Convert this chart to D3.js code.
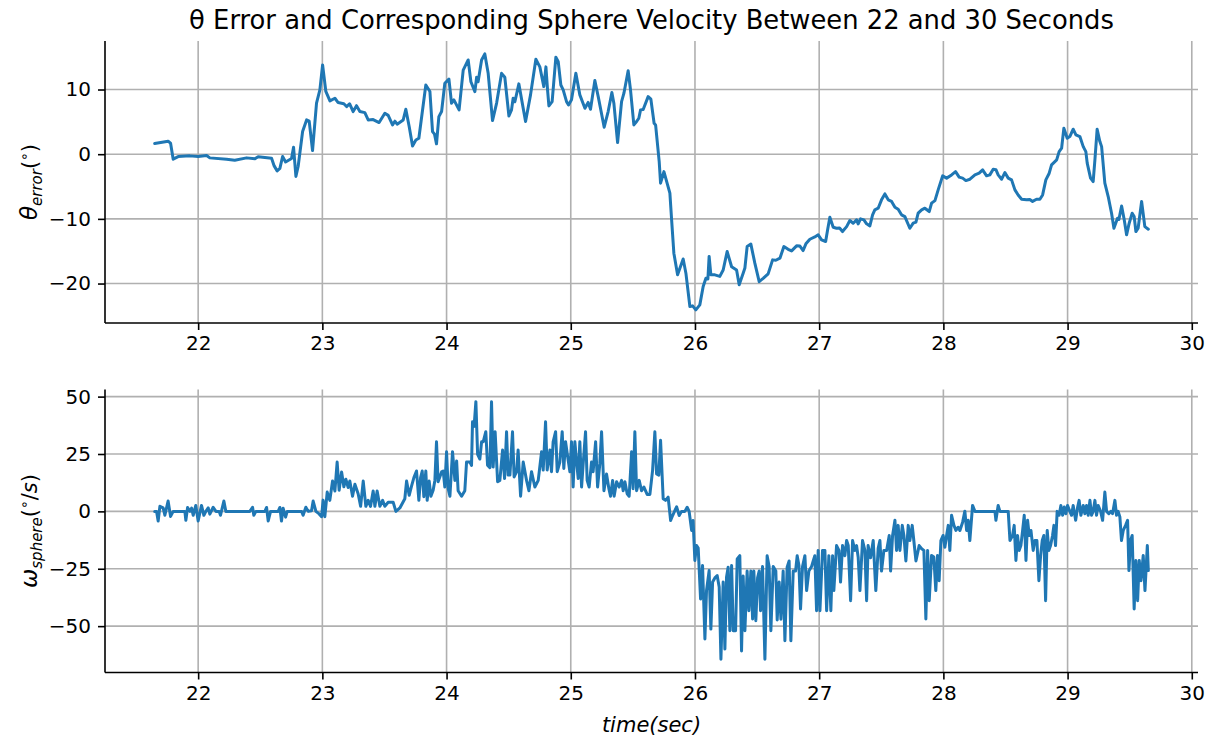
<!DOCTYPE html>
<html>
<head>
<meta charset="utf-8">
<title>θ Error and Sphere Velocity</title>
<script src="https://d3js.org/d3.v7.min.js"></script>
<style>
  body { margin: 0; background: #fff; }
  text { font-family: "DejaVu Sans", sans-serif; fill: #000; }
</style>
</head>
<body>
<svg id="chart" width="1213" height="738"></svg>
<script>
// time stamps (s) and theta error (deg), top panel
var errTime = [21.65,21.758,21.778,21.799,21.839,21.933,22.0,22.068,22.094,22.229,22.295,22.39,22.457,22.483,22.591,22.612,22.636,22.658,22.68,22.704,
  22.752,22.768,22.787,22.805,22.841,22.873,22.894,22.921,22.953,22.98,23.002,23.028,23.061,23.101,23.127,23.173,23.195,23.219,23.248,23.275,
  23.302,23.342,23.369,23.409,23.457,23.503,23.53,23.565,23.584,23.602,23.651,23.672,23.699,23.726,23.753,23.777,23.833,23.866,23.887,23.903,
  23.919,23.938,23.96,23.986,24.019,24.04,24.059,24.101,24.134,24.174,24.196,24.228,24.242,24.254,24.282,24.308,24.335,24.37,24.403,24.443,
  24.469,24.502,24.523,24.536,24.55,24.582,24.636,24.676,24.719,24.751,24.783,24.8,24.813,24.824,24.85,24.88,24.899,24.92,24.939,24.966,
  24.982,25.006,25.041,25.073,25.114,25.14,25.159,25.194,25.221,25.269,25.301,25.331,25.347,25.377,25.409,25.428,25.462,25.481,25.508,25.53,
  25.548,25.562,25.583,25.623,25.645,25.671,25.683,25.712,25.723,25.75,25.798,25.812,25.83,25.86,25.905,25.927,25.959,25.981,26.007,26.039,
  26.066,26.088,26.104,26.114,26.128,26.16,26.2,26.227,26.259,26.295,26.335,26.356,26.388,26.402,26.42,26.45,26.482,26.517,26.549,26.589,
  26.625,26.651,26.684,26.716,26.75,26.778,26.818,26.845,26.871,26.893,26.925,26.965,26.992,27.019,27.052,27.068,27.086,27.113,27.14,27.164,
  27.188,27.221,27.247,27.274,27.301,27.314,27.333,27.36,27.382,27.408,27.43,27.448,27.475,27.502,27.529,27.556,27.583,27.61,27.636,27.663,
  27.69,27.73,27.757,27.779,27.797,27.825,27.851,27.886,27.905,27.932,27.958,27.994,28.026,28.066,28.098,28.127,28.155,28.181,28.214,28.254,
  28.288,28.316,28.348,28.374,28.401,28.423,28.441,28.469,28.495,28.522,28.549,28.576,28.602,28.63,28.67,28.696,28.718,28.75,28.777,28.799,
  28.825,28.852,28.871,28.912,28.932,28.952,28.97,28.997,29.018,29.045,29.067,29.099,29.126,29.147,29.158,29.185,29.206,29.22,29.238,29.26,
  29.274,29.3,29.327,29.354,29.373,29.402,29.413,29.435,29.456,29.475,29.496,29.52,29.536,29.55,29.568,29.596,29.622,29.65];
var thetaError = [1.64,2.0,1.7,-0.77,-0.37,-0.26,-0.37,-0.2,-0.57,-0.77,-0.93,-0.57,-0.72,-0.4,-0.62,-1.81,-2.58,-2.2,-0.36,-1.2,
  -0.67,1.08,-3.45,-1.9,3.5,5.3,5.1,0.56,7.9,9.94,13.8,9.7,8.24,8.65,7.98,7.8,7.36,7.8,6.59,7.5,
  6.6,6.43,5.3,5.35,4.89,6.33,6.0,4.53,5.1,4.64,5.3,6.95,4.27,1.28,2.2,2.47,10.7,9.68,3.5,3.1,
  1.6,5.8,6.6,10.97,11.6,7.88,8.4,6.85,13.0,14.57,11.2,9.68,11.9,11.2,14.57,15.5,12.5,5.2,7.9,12.5,
  11.9,5.9,6.85,8.65,8.1,10.87,5.05,9.17,14.68,13.5,10.45,13.5,9.94,7.47,8.13,15.0,14.3,10.7,9.94,8.13,
  7.62,8.4,12.5,9.17,7.1,8.0,6.95,11.38,8.9,4.17,6.59,9.53,7.88,1.8,8.13,9.43,12.9,9.94,4.53,5.05,
  5.56,6.85,6.9,8.9,8.5,4.79,4.53,-1.14,-4.48,-2.69,-6.03,-10.15,-15.3,-18.65,-16.2,-18.4,-23.55,-23.45,-24.07,-23.3,
  -20.46,-19.17,-19.3,-15.8,-18.65,-18.65,-18.9,-17.9,-15.05,-17.4,-17.9,-20.2,-18.4,-17.6,-14.28,-13.9,-16.85,-19.7,-19.2,-18.5,
  -16.34,-16.4,-16.08,-14.28,-14.7,-14.95,-14.17,-14.2,-14.9,-13.86,-13.15,-12.8,-12.47,-13.25,-13.5,-11.7,-9.74,-11.3,-11.45,-11.4,
  -11.96,-11.2,-10.26,-10.67,-10.15,-10.77,-10.0,-10.15,-10.77,-11.08,-9.38,-8.6,-8.35,-7.06,-6.14,-7.06,-7.3,-8.2,-8.5,-9.38,
  -9.64,-11.45,-10.67,-10.5,-9.12,-8.6,-8.35,-8.87,-7.57,-7.17,-5.52,-3.35,-3.7,-3.2,-2.69,-3.55,-3.7,-4.08,-3.87,-3.2,
  -2.94,-2.43,-3.35,-3.2,-2.32,-2.4,-3.2,-3.87,-2.84,-3.7,-3.97,-5.52,-6.3,-6.96,-7.06,-7.0,-7.3,-6.96,-6.96,-6.3,
  -3.97,-2.94,-1.65,-0.88,0.4,0.93,4.02,2.47,2.72,3.86,2.98,2.72,1.17,0.4,-1.39,-3.7,-4.23,-0.88,3.86,1.95,
  1.17,-4.48,-6.55,-9.12,-11.45,-9.9,-10.1,-8.0,-10.15,-12.47,-10.67,-9.12,-9.64,-11.96,-11.45,-7.3,-11.2,-11.6];

// time stamps (s) and sphere angular velocity (deg/s), bottom panel
var velTime = [21.65,21.665,21.678,21.692,21.718,21.732,21.758,21.778,21.799,21.853,21.893,21.901,21.915,21.933,21.947,21.96,21.981,22.0,22.027,22.046,
  22.062,22.081,22.094,22.121,22.143,22.169,22.18,22.207,22.223,22.416,22.438,22.448,22.465,22.537,22.551,22.564,22.583,22.644,22.658,22.671,
  22.684,22.704,22.717,22.833,22.845,22.867,22.886,22.913,22.926,22.948,22.972,22.994,23.006,23.02,23.039,23.06,23.082,23.101,23.119,23.135,
  23.155,23.173,23.189,23.208,23.221,23.243,23.262,23.288,23.308,23.329,23.35,23.369,23.388,23.409,23.423,23.441,23.463,23.485,23.503,23.53,
  23.57,23.592,23.624,23.664,23.678,23.699,23.718,23.737,23.758,23.777,23.791,23.804,23.817,23.833,23.844,23.86,23.874,23.892,23.906,23.919,
  23.932,23.96,23.973,23.986,24.0,24.013,24.027,24.048,24.067,24.081,24.093,24.121,24.147,24.161,24.188,24.201,24.209,24.222,24.236,24.25,
  24.268,24.282,24.295,24.316,24.33,24.349,24.362,24.375,24.391,24.411,24.429,24.451,24.467,24.483,24.496,24.51,24.531,24.544,24.564,24.576,
  24.596,24.617,24.644,24.663,24.684,24.711,24.738,24.765,24.778,24.797,24.81,24.832,24.845,24.858,24.878,24.891,24.912,24.931,24.944,24.958,
  24.971,24.993,25.006,25.019,25.033,25.047,25.06,25.073,25.087,25.1,25.119,25.132,25.148,25.167,25.18,25.2,25.216,25.234,25.248,25.267,
  25.288,25.307,25.32,25.337,25.349,25.369,25.39,25.409,25.422,25.436,25.454,25.47,25.49,25.502,25.516,25.53,25.551,25.57,25.589,25.615,
  25.637,25.659,25.677,25.691,25.709,25.723,25.744,25.763,25.784,25.804,25.82,25.852,25.873,25.892,25.919,25.937,25.953,25.973,25.985,25.999,
  26.013,26.026,26.045,26.061,26.08,26.093,26.114,26.128,26.142,26.16,26.179,26.195,26.209,26.227,26.241,26.254,26.267,26.281,26.295,26.308,
  26.327,26.34,26.361,26.375,26.388,26.402,26.42,26.434,26.45,26.464,26.474,26.49,26.504,26.517,26.528,26.544,26.563,26.581,26.597,26.611,
  26.63,26.651,26.662,26.678,26.692,26.71,26.724,26.742,26.758,26.772,26.791,26.81,26.823,26.837,26.85,26.866,26.885,26.899,26.917,26.939,
  26.952,26.965,26.979,26.992,27.006,27.027,27.046,27.06,27.078,27.094,27.108,27.118,27.14,27.159,27.172,27.188,27.207,27.221,27.234,27.253,
  27.269,27.287,27.301,27.314,27.328,27.349,27.368,27.382,27.394,27.414,27.435,27.456,27.475,27.489,27.502,27.521,27.543,27.564,27.575,27.591,
  27.61,27.623,27.636,27.65,27.669,27.682,27.698,27.717,27.73,27.749,27.762,27.779,27.805,27.825,27.843,27.859,27.873,27.886,27.905,27.923,
  27.939,27.953,27.966,27.98,27.998,28.012,28.026,28.039,28.052,28.066,28.085,28.101,28.119,28.133,28.155,28.173,28.187,28.2,28.213,28.235,
  28.254,28.415,28.423,28.441,28.455,28.522,28.536,28.557,28.57,28.584,28.597,28.61,28.624,28.638,28.651,28.665,28.678,28.691,28.705,28.723,
  28.737,28.753,28.769,28.783,28.796,28.809,28.823,28.836,28.849,28.863,28.879,28.89,28.903,28.916,28.932,28.946,28.96,28.973,28.986,29.0,
  29.018,29.032,29.045,29.065,29.081,29.093,29.107,29.126,29.139,29.153,29.166,29.18,29.193,29.206,29.22,29.233,29.246,29.266,29.282,29.3,
  29.314,29.332,29.348,29.362,29.381,29.394,29.407,29.421,29.434,29.448,29.467,29.483,29.494,29.507,29.52,29.536,29.55,29.564,29.577,29.591,
  29.609,29.623,29.642,29.65];
var sphereVel = [0,0,-4.2,2.2,1.5,-1.7,4.5,-2.2,0,0,0,-3.9,1.7,0,1.4,-1.7,2.6,-4.2,2.6,-1.7,
  0,1.5,-1.2,1.8,0,0,-1.7,4.5,0,0,1.8,-1.7,0,0,1.7,-4.2,0,0,1.7,-4.2,
  1.4,-2.5,0,0,-1.7,1.8,0,0.3,4.5,0,-1,-2.3,4.9,-2.3,8.4,4.8,13.2,8.9,21.5,9.2,
  17.2,10.7,14,10.4,13.2,6.6,11.8,7.7,2.2,13.2,2.2,4.8,2.2,8.9,2.2,8.9,2.2,4.8,2.2,4.0,
  4.0,0,1.5,5.5,13.2,7,11,14.7,17.6,4.8,14.7,17.6,6.4,17.6,4.8,13.2,6.6,9.2,13.5,30.3,
  12.9,17.2,17.6,10.6,26,9.9,6.6,26,13.5,22,9,6.6,9,21.5,21.5,20,39,37,47.8,24.8,
  22.8,30.3,30.3,34.7,20.1,19,47.8,19.3,34.7,12.9,13.5,26.7,14.3,34.7,15.8,15.8,34.7,15,17.3,26.7,
  6.6,21.5,13.5,9,17.3,10.6,13.5,26,18,39,18,26.7,17.3,30.3,34.7,17.3,21.5,34.7,18.7,30.3,
  25.3,17.3,30.3,10.6,30.3,21.5,14.3,30.3,10.6,20.8,34.7,13.5,10.6,21.5,17.3,30.3,10.6,20.8,34.7,9,
  16.3,9.9,6.6,13.5,6.6,12.9,10.6,13.5,9,12.9,7.7,6.6,26,9.9,34.7,9,13.5,9,10.6,7.4,
  7.4,18,34.7,16.3,15.8,31,5.5,4.8,6.2,-4,-1.8,2,-1.8,0,0,1.8,0,-8.3,-4,-21.4,
  -14.9,-16,-38.2,-23.6,-55.6,-34.5,-25.8,-51.3,-30.8,-29,-28,-33,-64.4,-30.8,-60,-28.7,-24.3,-52,-23.6,-52,
  -52,-20.7,-19.3,-60.8,-28.2,-52,-26,-43.3,-26,-46.9,-26,-47.6,-29,-26,-43.3,-24,-64.4,-19.3,-24,-52,
  -24,-26,-47.3,-30.8,-47,-26,-56.4,-24.3,-21.6,-56.4,-26,-26,-19.3,-23.6,-42.5,-24,-19.3,-34.5,-26,-24,
  -21.6,-19.3,-43.3,-17,-43.3,-17,-17,-43.3,-19.3,-43.3,-19.3,-34.5,-14.9,-17,-30.8,-14.9,-19.3,-12.7,-14.9,-38.9,
  -12.7,-17,-14.9,-20,-34.5,-12.7,-17,-38.9,-14.9,-20.2,-12.7,-34.5,-16.1,-12.7,-26,-17,-17,-10.5,-26,-10.5,
  -3.9,-17,-6.1,-17,-6.1,-10.5,-21.6,-6.1,-12.7,-6.1,-12.7,-21.6,-14.9,-16.3,-17,-46.9,-17,-38.9,-19.2,-19.9,
  -34.5,-19.2,-30.2,-12.7,-10.5,-15.6,-10.5,-6.1,-17,-1.7,-6.1,-8.3,-6.9,-8.3,-4.7,0.1,-8.3,-3.9,-12.7,2.6,
  0,0,-3.9,2.6,0,0,-12.7,-10.5,-6.1,-21.4,-10.5,-17,-14.9,-8.3,-1.7,-21.4,-3.9,-10.5,-8.3,-17,
  -12.7,-12.7,-30.2,-19.2,-12.7,-10.5,-38.9,-8.3,-17,-14.9,-10.5,-6.1,-14.9,0,-1.7,2.6,-1.7,1.9,-1,2.6,
  0,-1.7,2.6,-3.9,1.9,4.8,-1.7,2.6,-1,2.6,-1.7,4.8,-1.7,0,4.8,-1.7,2.6,0,-3.9,8.4,
  0,-1,0,-1,4.8,-1.7,0,-2.4,-12.7,-8.3,-6.1,-3.9,-25.8,-12.7,-10.5,-42.5,-21.4,-38.9,-21.4,-30.2,
  -19.2,-34.5,-14.9,-25.8];

var xTicks = [22, 23, 24, 25, 26, 27, 28, 29, 30];
var errTicks = [-20, -10, 0, 10];
var velTicks = [-50, -25, 0, 25, 50];

var svg = d3.select("#chart");
var blue = "#1f77b4";
var left = 105, right = 1198;

var x = d3.scaleLinear().domain([21.25, 30.05]).range([left, right]);

svg.append("text")
    .attr("x", (left + right) / 2)
    .attr("y", 28.5)
    .attr("text-anchor", "middle")
    .style("font-size", "25.8px")
    .text("θ Error and Corresponding Sphere Velocity Between 22 and 30 Seconds");

function drawPanel(top, bottom, yDomain, yTicks, times, values) {
    var y = d3.scaleLinear().domain(yDomain).range([bottom, top]);
    var g = svg.append("g");

    // grid
    g.selectAll(".vgrid").data(xTicks).enter().append("line")
        .attr("x1", d => x(d)).attr("x2", d => x(d))
        .attr("y1", top).attr("y2", bottom)
        .attr("stroke", "#b0b0b0").attr("stroke-width", 1.6);
    g.selectAll(".hgrid").data(yTicks).enter().append("line")
        .attr("x1", left).attr("x2", right)
        .attr("y1", d => y(d)).attr("y2", d => y(d))
        .attr("stroke", "#b0b0b0").attr("stroke-width", 1.6);

    // line
    var pts = times.map((t, i) => [t, values[i]]);
    g.append("path")
        .datum(pts)
        .attr("d", d3.line().x(d => x(d[0])).y(d => y(d[1])))
        .attr("fill", "none")
        .attr("stroke", blue)
        .attr("stroke-width", 3)
        .attr("stroke-linejoin", "round")
        .attr("stroke-linecap", "round");

    // axes
    var xAxis = g.append("g").attr("transform", "translate(0," + bottom + ")")
        .call(d3.axisBottom(x).tickValues(xTicks).tickFormat(d3.format("d")).tickSize(7).tickPadding(6));
    var yAxis = g.append("g").attr("transform", "translate(" + left + ",0)")
        .call(d3.axisLeft(y).tickValues(yTicks).tickFormat(d3.format("d")).tickSize(7).tickPadding(7));
    [xAxis, yAxis].forEach(function(a) {
        a.select(".domain").attr("stroke", "#000").attr("stroke-width", 1.6);
        a.selectAll(".tick line").attr("stroke", "#000").attr("stroke-width", 1.6);
        a.selectAll(".tick text").style("font-size", "20px").style("font-family", "DejaVu Sans");
    });
    // plain spines, no end caps
    xAxis.select(".domain").attr("d", "M" + left + ",0H" + right);
    yAxis.select(".domain").attr("d", "M0," + top + "V" + bottom);
    return y;
}

drawPanel(41, 323, [-26.1, 17.5], errTicks, errTime, thetaError);
drawPanel(389.5, 672.5, [-70.2, 53.1], velTicks, velTime, sphereVel);

// y labels (math style)
var l1 = svg.append("text")
    .attr("transform", "translate(37,182) rotate(-90)")
    .attr("text-anchor", "middle")
    .style("font-size", "21px");
l1.append("tspan").style("font-style", "italic").style("font-size", "23px").text("θ");
l1.append("tspan").style("font-style", "italic").style("font-size", "15px").attr("dy", 5).text("error");
l1.append("tspan").attr("dy", -5).text("(");
l1.append("tspan").style("font-size", "14px").attr("dy", -8).text("∘");
l1.append("tspan").attr("dy", 8).text(")");

var l2 = svg.append("text")
    .attr("transform", "translate(37,531) rotate(-90)")
    .attr("text-anchor", "middle")
    .style("font-size", "21px");
l2.append("tspan").style("font-style", "italic").style("font-size", "23px").text("ω");
l2.append("tspan").style("font-style", "italic").style("font-size", "15px").attr("dy", 5).text("sphere");
l2.append("tspan").attr("dy", -5).text("(");
l2.append("tspan").style("font-size", "14px").attr("dy", -8).text("∘");
l2.append("tspan").attr("dy", 8).text("/");
l2.append("tspan").style("font-style", "italic").text("s");
l2.append("tspan").text(")");

svg.append("text")
    .attr("x", (left + right) / 2)
    .attr("y", 732)
    .attr("text-anchor", "middle")
    .style("font-size", "21px")
    .style("font-style", "italic")
    .text("time(sec)");
</script>
</body>
</html>
